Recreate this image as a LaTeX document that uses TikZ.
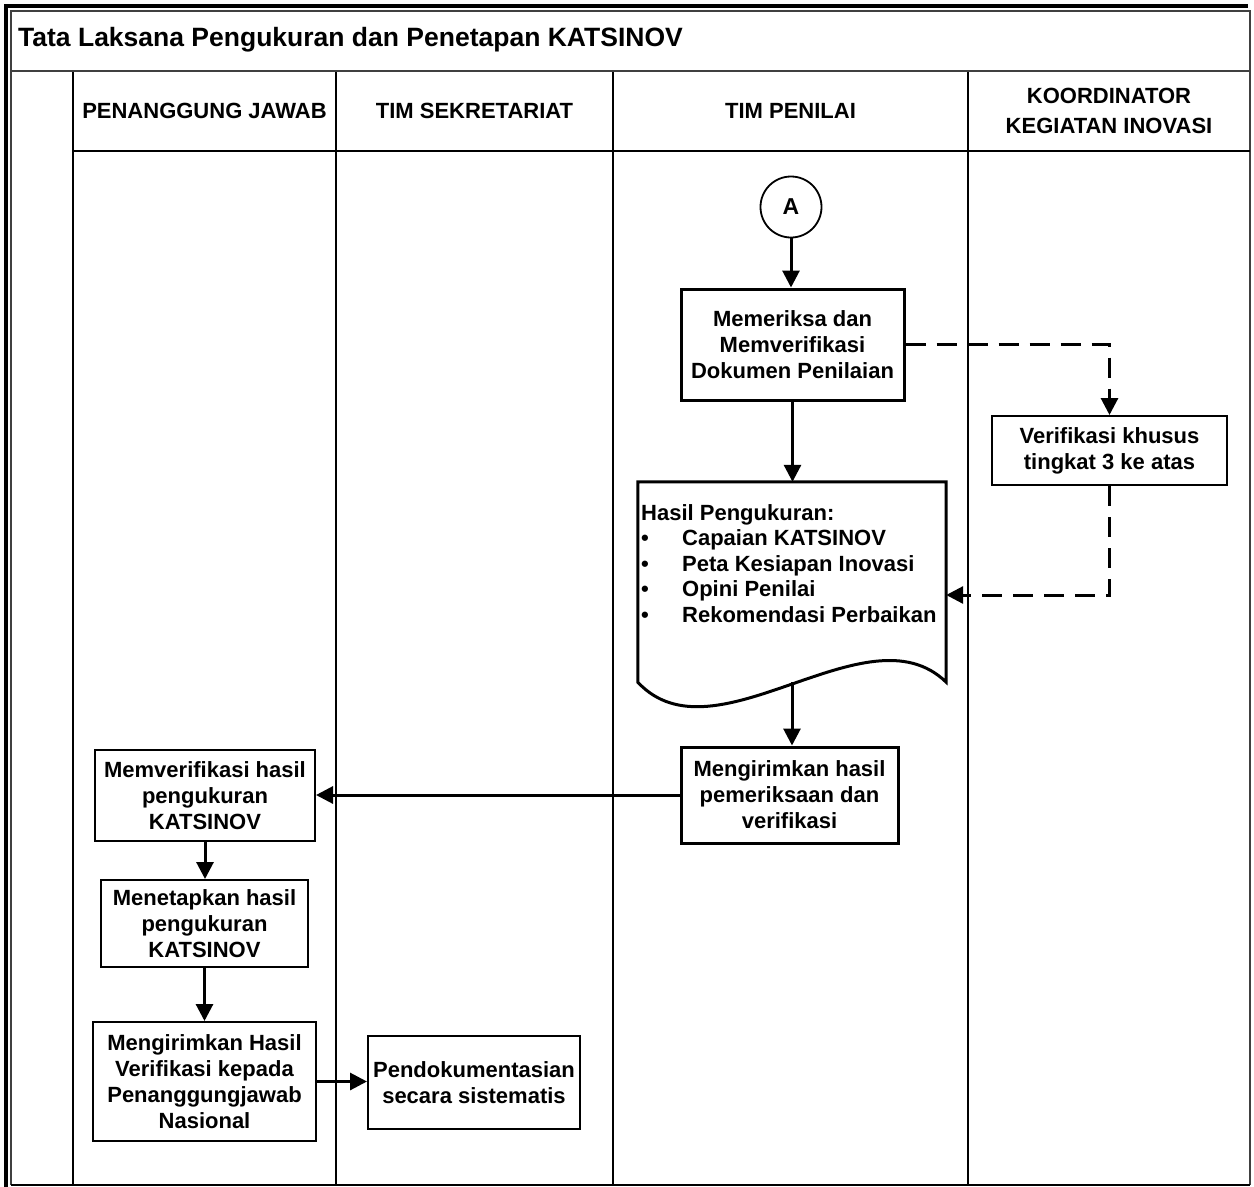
\documentclass[tikz,border=0pt]{standalone}
\usepackage{fontspec}
\setmainfont{Liberation Sans}
\usetikzlibrary{arrows.meta,positioning,shapes.geometric}
\tikzstyle{stepbox} = [rectangle, draw=black, line width=3pt, align=center, inner sep=0pt, font=\bfseries\fontsize{22}{26}\selectfont]
\tikzstyle{thinbox} = [stepbox, line width=2pt]
\tikzstyle{arrow} = [line width=3pt,-{Triangle[length=17pt,width=17pt]}]
\tikzstyle{dasharrow} = [arrow, dash pattern=on 20pt off 11pt]
\tikzstyle{lane} = [line width=2.2pt]
\tikzstyle{laneHead} = [align=center, inner sep=0pt, font=\bfseries\fontsize{22}{30}\selectfont]

\begin{document}
\begin{tikzpicture}[x=1pt,y=-1pt]
\useasboundingbox (0,0) rectangle (1254,1187);
% frame and lanes
\draw [line width=3.5pt] (6,1187) -- (6,6) -- (1248,6);
\draw [line width=1.6pt, black!75] (11,1185) -- (11,11) -- (1250,11) -- (1250,1185);
\draw [line width=2.5pt] (11,1185) -- (1250,1185);
\draw [line width=2pt, black!75] (11,71) -- (1250,71);
\draw [lane] (73,151) -- (1250,151);
\draw [line width=1.6pt] (73,72) -- (73,1185);
\foreach \x in {336,613,968}
    \draw [lane] (\x,72) -- (\x,1185);

\node (judul) [anchor=base west, inner sep=0pt, font=\bfseries\fontsize{26.5}{30}\selectfont] at (18,46) {Tata Laksana Pengukuran dan Penetapan KATSINOV};
\node (pj) [laneHead] at (204.5,111) {PENANGGUNG JAWAB};
\node (sekre) [laneHead] at (474.5,111) {TIM SEKRETARIAT};
\node (penilai) [laneHead] at (790.5,111) {TIM PENILAI};
\node (koord) [laneHead] at (1109,111) {KOORDINATOR\\KEGIATAN INOVASI};

% tim penilai
\node (A) [circle, draw, line width=1.8pt, minimum size=61pt, inner sep=0pt, font=\bfseries\fontsize{23}{26}\selectfont] at (791,207) {A};
\node (periksa) [stepbox, minimum width=223pt, minimum height=111pt] at (792.5,344.5) {Memeriksa dan\\Memverifikasi\\Dokumen Penilaian};
\node (hasil) [minimum width=308pt, minimum height=200pt, inner sep=0pt] at (792,582) {};
\draw [line width=3pt] (hasil.north west) -- (hasil.north east) -- (hasil.south east) .. controls (867,605) and (715,765) .. (hasil.south west) -- cycle;
\node (hasiltxt) [anchor=north west, align=left, inner sep=0pt, font=\bfseries\fontsize{22}{25.5}\selectfont] at (641,504) {Hasil Pengukuran:\\\makebox[41pt][l]{\textbullet}Capaian KATSINOV\\\makebox[41pt][l]{\textbullet}Peta Kesiapan Inovasi\\\makebox[41pt][l]{\textbullet}Opini Penilai\\\makebox[41pt][l]{\textbullet}Rekomendasi Perbaikan};
\node (kirim) [stepbox, minimum width=217pt, minimum height=96pt] at (789.5,795) {Mengirimkan hasil\\pemeriksaan dan\\verifikasi};

% koordinator
\node (khusus) [thinbox, minimum width=235pt, minimum height=69pt] at (1109.5,450.5) {Verifikasi khusus\\tingkat 3 ke atas};

% penanggung jawab
\node (cekpj) [thinbox, minimum width=220pt, minimum height=91pt] at (205,795.5) {Memverifikasi hasil\\pengukuran\\KATSINOV};
\node (tetap) [thinbox, minimum width=207pt, minimum height=87pt] at (204.5,923.5) {Menetapkan hasil\\pengukuran\\KATSINOV};
\node (kirimnas) [thinbox, minimum width=223pt, minimum height=119pt] at (204.5,1081.5) {Mengirimkan Hasil\\Verifikasi kepada\\Penanggungjawab\\Nasional};

% sekretariat
\node (dok) [thinbox, minimum width=212pt, minimum height=93pt] at (474,1082.5) {Pendokumentasian\\secara sistematis};

\draw [arrow] (A) -- (A |- periksa.north);
\draw [arrow] (periksa.south) -- (periksa.south |- hasil.north);
\draw [arrow] (hasil.south) -- (hasil.south |- kirim.north);
\draw [arrow] (kirim.west) -- (kirim.west -| cekpj.east);
\draw [arrow] (cekpj.south) -- (cekpj.south |- tetap.north);
\draw [arrow] (tetap) -- (kirimnas);
\draw [arrow] (kirimnas.east) -- (kirimnas.east -| dok.west);
\draw [dasharrow] (periksa.east) -| (khusus.north);
\draw [dasharrow] (khusus.south) |- ([yshift=-13pt]hasil.east);
\end{tikzpicture}
\end{document}
